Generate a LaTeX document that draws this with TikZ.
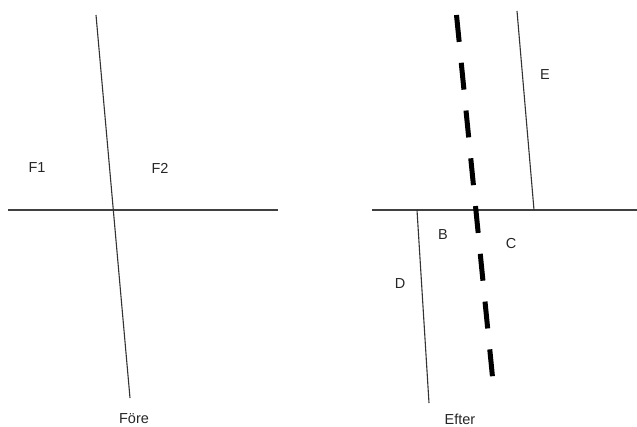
\documentclass[tikz,border=0pt]{standalone}
\usepackage{fontspec}
\setmainfont{Liberation Sans}
\begin{document}
\begin{tikzpicture}[x=1pt,y=-1pt,
  thinline/.style={draw=black!80,line width=1.1pt},
  baseline/.style={draw=black!75,line width=1.5pt},
  faultdash/.style={draw=black,line width=5pt,dash pattern=on 27pt off 21pt},
  lbl/.style={font=\fontsize{14.5}{16}\selectfont,text=black!85,inner sep=0pt}]
\useasboundingbox (0,0) rectangle (637,427);
% left panel
\coordinate (ht1) at (96,15);
\coordinate (hb1) at (130,398);
\coordinate (hl1) at (8,210);
\coordinate (hr1) at (278,210);
\draw[baseline] (hl1) -- (hr1);
\draw[thinline] (ht1) -- (hb1);
\node[lbl] (f1) at (37,168) {F1};
\node[lbl] (f2) at (160,168) {F2};
\node[lbl] (fore) at (134,419) {Före};
% right panel
\coordinate (hl2) at (372,210);
\coordinate (hr2) at (637,210);
\coordinate (et) at (517,11);
\coordinate (eb) at (534,210);
\coordinate (dt) at (417,210);
\coordinate (db) at (429,403);
\coordinate (ft) at (456.5,15);
\coordinate (fb) at (493,382);
\draw[baseline] (hl2) -- (hr2);
\draw[thinline] (et) -- (eb);
\draw[thinline] (dt) -- (db);
\draw[faultdash] (ft) -- (fb);
\node[lbl] (e) at (545,75) {E};
\node[lbl] (b) at (443,235) {B};
\node[lbl] (c) at (511,244) {C};
\node[lbl] (d) at (400,284) {D};
\node[lbl] (efter) at (460,419) {Efter};
\end{tikzpicture}
\end{document}
